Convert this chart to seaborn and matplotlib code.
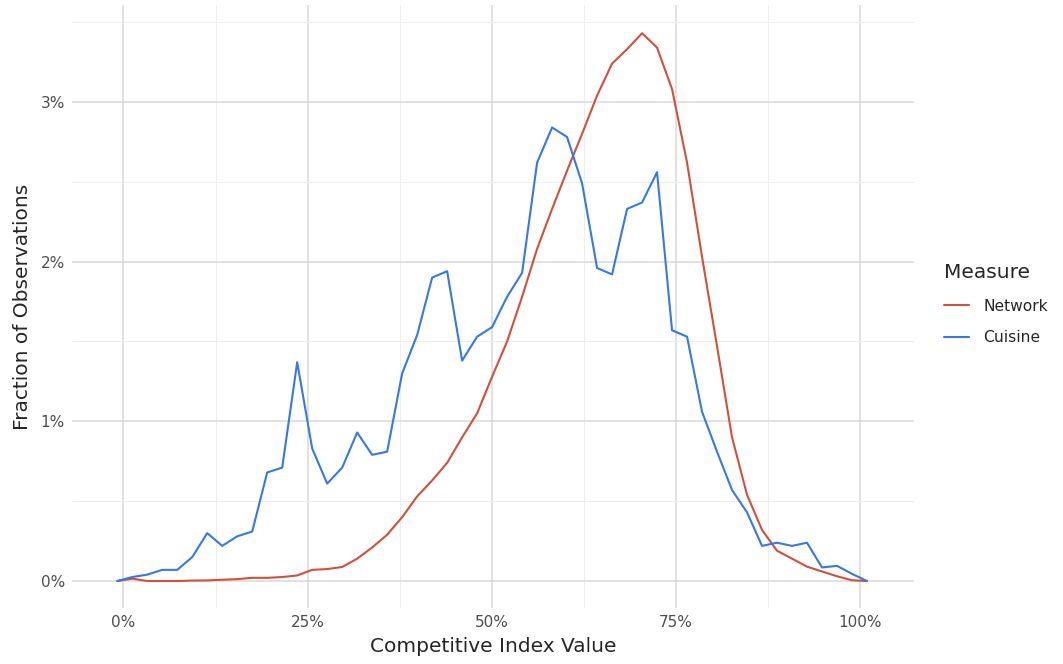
import numpy as np
import pandas as pd
import matplotlib
matplotlib.use("Agg")
import matplotlib.pyplot as plt
import seaborn as sns
from matplotlib.ticker import PercentFormatter, FixedLocator

# bin centres of the competitive index (51 evenly spaced bins)
index_value = np.linspace(-0.0084, 1.0095, 51)

# fraction of observations, in percent
network = [0.0, 0.015, 0.0, 0.0, 0.0, 0.003, 0.004, 0.008, 0.012, 0.02,
           0.02, 0.025, 0.035, 0.07, 0.075, 0.088, 0.14, 0.21, 0.29, 0.40,
           0.53, 0.63, 0.74, 0.90, 1.05, 1.28, 1.50, 1.78, 2.08, 2.33,
           2.57, 2.80, 3.04, 3.24, 3.33, 3.43, 3.34, 3.08, 2.62, 2.03,
           1.47, 0.90, 0.54, 0.32, 0.19, 0.14, 0.09, 0.06, 0.03, 0.005,
           0.0]
cuisine = [0.0, 0.025, 0.04, 0.07, 0.07, 0.15, 0.30, 0.22, 0.28, 0.31,
           0.68, 0.71, 1.37, 0.83, 0.61, 0.71, 0.93, 0.79, 0.81, 1.30,
           1.54, 1.90, 1.94, 1.38, 1.53, 1.59, 1.78, 1.93, 2.62, 2.84,
           2.78, 2.49, 1.96, 1.92, 2.33, 2.37, 2.56, 1.57, 1.53, 1.06,
           0.81, 0.57, 0.43, 0.22, 0.24, 0.22, 0.24, 0.085, 0.095, 0.045,
           0.0]

measures = ["Network", "Cuisine"]
colors = {"Network": "#D0503D", "Cuisine": "#3578E6"}

df = pd.DataFrame({
    "x": np.concatenate([index_value, index_value]),
    "y": np.array(network + cuisine) / 100,
    "Measure": ["Network"] * 51 + ["Cuisine"] * 51,
})

sns.set_style("white")
plt.rcParams["font.family"] = ["DejaVu Sans"]

fig = plt.figure(figsize=(10.63, 6.64), dpi=100)
ax = fig.add_axes([0.0677, 0.0843, 0.7921, 0.9082])

sns.lineplot(data=df, x="x", y="y", hue="Measure", hue_order=measures,
             palette=colors, linewidth=1.5, ax=ax, legend=False)

ax.set_xlim(-0.0699, 1.0733)
ax.set_ylim(-0.00169, 0.03607)

ax.xaxis.set_major_locator(FixedLocator([0, 0.25, 0.5, 0.75, 1.0]))
ax.xaxis.set_minor_locator(FixedLocator([0.125, 0.375, 0.625, 0.875]))
ax.yaxis.set_major_locator(FixedLocator([0, 0.01, 0.02, 0.03]))
ax.yaxis.set_minor_locator(FixedLocator([0.005, 0.015, 0.025, 0.035]))
ax.xaxis.set_major_formatter(PercentFormatter(1, decimals=0))
ax.yaxis.set_major_formatter(PercentFormatter(1, decimals=0))

ax.grid(which="major", color="#D9D9D9", linewidth=1.1)
ax.grid(which="minor", color="#EDEDED", linewidth=0.7)
ax.set_axisbelow(True)
for s in ax.spines.values():
    s.set_visible(False)
ax.tick_params(which="both", length=0, labelsize=11, labelcolor="#4D4D4D", pad=5)

ax.set_xlabel("Competitive Index Value", fontsize=14.5, labelpad=5)
ax.set_ylabel("Fraction of Observations", fontsize=14.5, labelpad=6)

handles = [plt.Line2D([], [], color=colors[m], linewidth=1.5) for m in measures]
leg = fig.legend(handles, measures, title="Measure", loc="center left",
                 bbox_to_anchor=(0.875, 0.542), frameon=False, fontsize=11.2,
                 title_fontsize=14.5, handlelength=1.6, handletextpad=0.9,
                 labelspacing=1.05, alignment="left")

fig.savefig("out.png", dpi=100)
